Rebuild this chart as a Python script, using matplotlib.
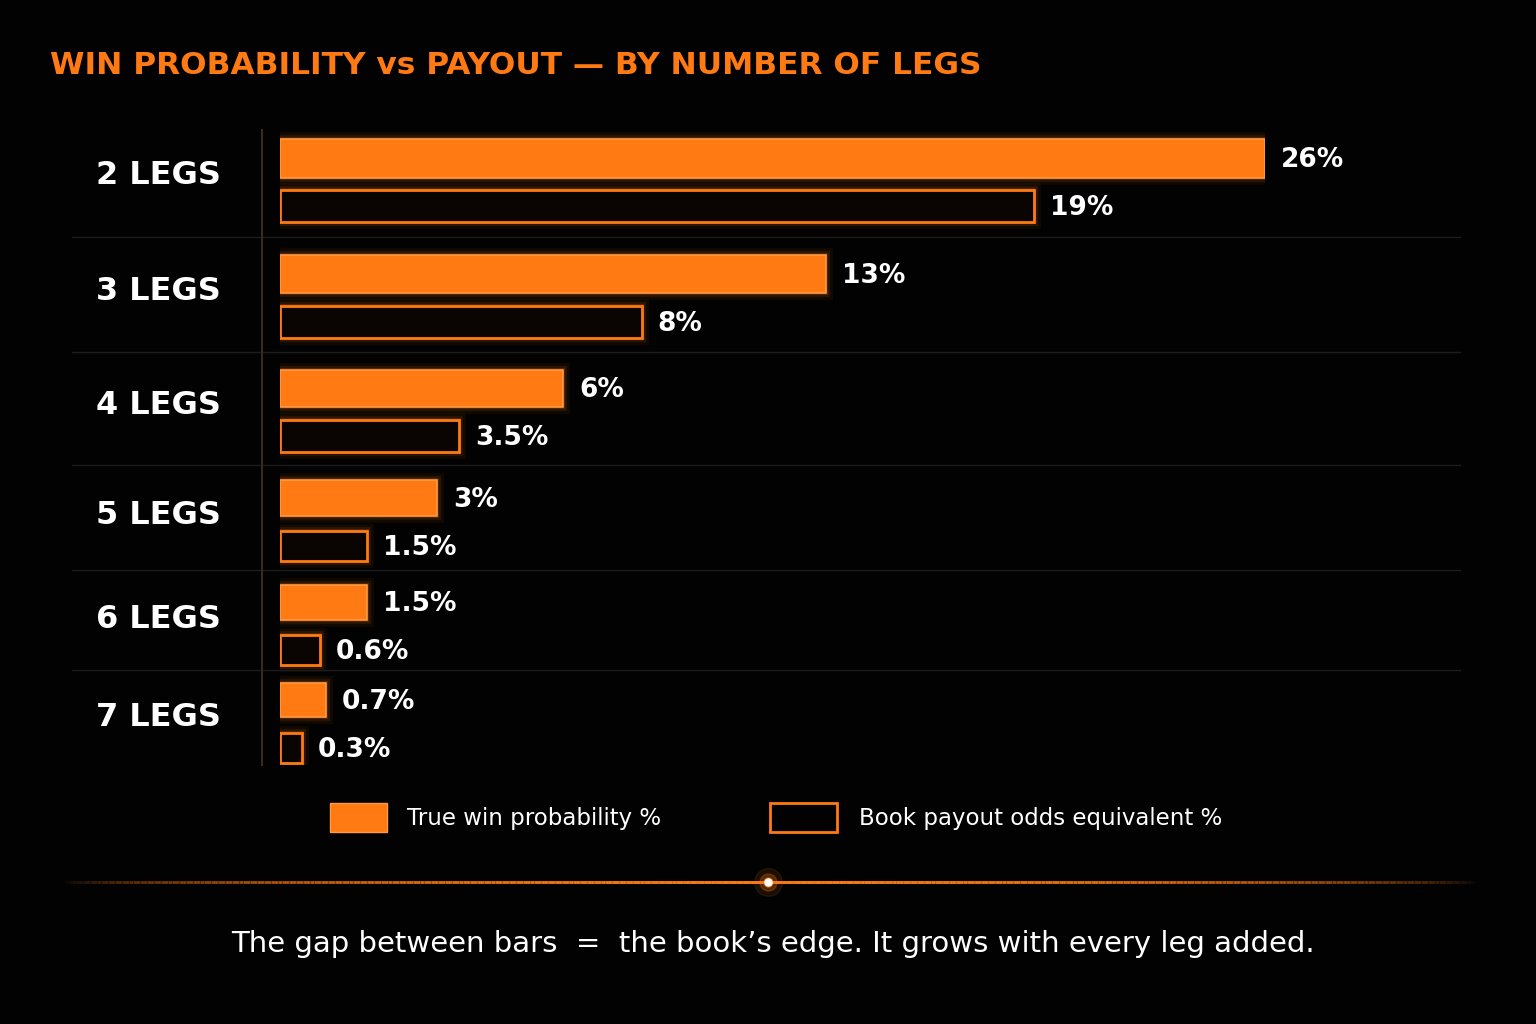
import numpy as np
import matplotlib.pyplot as plt
from matplotlib.patches import Rectangle
from matplotlib.transforms import offset_copy

legs = ["2 LEGS", "3 LEGS", "4 LEGS", "5 LEGS", "6 LEGS", "7 LEGS"]
true_prob = [26, 13, 6, 3, 1.5, 0.7]
book_odds = [19, 8, 3.5, 1.5, 0.6, 0.3]
true_lbl = ["26%", "13%", "6%", "3%", "1.5%", "0.7%"]
book_lbl = ["19%", "8%", "3.5%", "1.5%", "0.6%", "0.3%"]

ORANGE = "#ff7a12"
BG = "#020202"
W, H = 1536, 1024
P = 0.85  # compressed scale as in the reference

# row centres in pixels (layout)
row_y = [176, 292, 406, 516, 620, 718]
sep_y = [237, 352, 465, 570, 670]

fig = plt.figure(figsize=(W / 100, H / 100), dpi=100, facecolor=BG)

def fx(px):
    return px / W

def fy(py):
    return 1 - py / H

ax = fig.add_axes([fx(280), fy(765), fx(1265) - fx(280), fy(130) - fy(765)])
ax.set_facecolor(BG)
ax.set_xscale("function", functions=(lambda x: np.sign(x) * np.abs(x) ** P,
                                     lambda x: np.sign(x) * np.abs(x) ** (1 / P)))
ax.set_xlim(0, 26)
ax.set_ylim(765, 130)
ax.axis("off")
lbl_tr = offset_copy(ax.transData, fig=fig, x=16, y=0, units="dots")

for i, name in enumerate(legs):
    c = row_y[i]
    yf, yb = c - 18, c + 30
    hf, hb = 39 - i * 1.0, 32 - i * 0.4
    for lw, a in [(10, 0.06), (6, 0.10), (3, 0.18)]:
        ax.barh(yf, true_prob[i], height=hf, color="none", edgecolor=ORANGE,
                linewidth=lw, alpha=a)
        ax.barh(yb, book_odds[i], height=hb, color="none", edgecolor=ORANGE,
                linewidth=lw, alpha=a)
    ax.barh(yf, true_prob[i], height=hf, color=ORANGE, edgecolor="#ff9a40", linewidth=1.2)
    ax.barh(yb, book_odds[i], height=hb, color="#0a0502", edgecolor=ORANGE, linewidth=2)
    ax.text(true_prob[i], yf + 2, true_lbl[i], color="white", fontsize=19,
            fontweight="bold", va="center", ha="left", clip_on=False, transform=lbl_tr)
    ax.text(book_odds[i], yb + 2, book_lbl[i], color="white", fontsize=19,
            fontweight="bold", va="center", ha="left", clip_on=False, transform=lbl_tr)
    fig.text(fx(96), fy(c), name, color="white", fontsize=23, fontweight="bold",
             va="center", ha="left")

for s in sep_y:
    fig.add_artist(plt.Line2D([fx(72), fx(1460)], [fy(s), fy(s)],
                              color="#1c1c1c", linewidth=1))

fig.add_artist(plt.Line2D([fx(262), fx(262)], [fy(130), fy(765)], color="#3a2a1e", linewidth=1.5))

fig.text(fx(50), fy(65), "WIN PROBABILITY vs PAYOUT — BY NUMBER OF LEGS", color=ORANGE,
         fontsize=22.5, fontweight="bold", va="center", ha="left")

fig.add_artist(Rectangle((fx(330), fy(832)), fx(57), fy(803) - fy(832), transform=fig.transFigure,
                         facecolor=ORANGE, edgecolor="#ff9a40"))
fig.text(fx(407), fy(818), "True win probability %", color="white", fontsize=16.5,
         va="center", ha="left")
fig.add_artist(Rectangle((fx(770), fy(832)), fx(67), fy(803) - fy(832), transform=fig.transFigure,
                         facecolor="none", edgecolor=ORANGE, linewidth=2))
fig.text(fx(859), fy(818), "Book payout odds equivalent %", color="white", fontsize=16.5,
         va="center", ha="left")

xs = np.linspace(60, 1476, 400)
alpha = np.clip(1 - np.abs(xs - 768) / 708, 0, 1) ** 0.7
for k in range(len(xs) - 1):
    fig.add_artist(plt.Line2D([fx(xs[k]), fx(xs[k + 1])], [fy(882), fy(882)],
                              color=ORANGE, linewidth=2, alpha=alpha[k]))
for s, a in [(400, 0.1), (150, 0.25), (40, 0.7)]:
    fig.add_artist(plt.Line2D([fx(768)], [fy(882)], marker="o", markersize=np.sqrt(s),
                              color=ORANGE, alpha=a, linestyle="none"))
fig.add_artist(plt.Line2D([fx(768)], [fy(882)], marker="o", markersize=5,
                          color="white", linestyle="none"))

fig.text(fx(773), fy(944), "The gap between bars  =  the book\u2019s edge. It grows with every leg added.",
         color="white", fontsize=21, va="center", ha="center")

fig.savefig("out.png", dpi=100, facecolor=BG)
